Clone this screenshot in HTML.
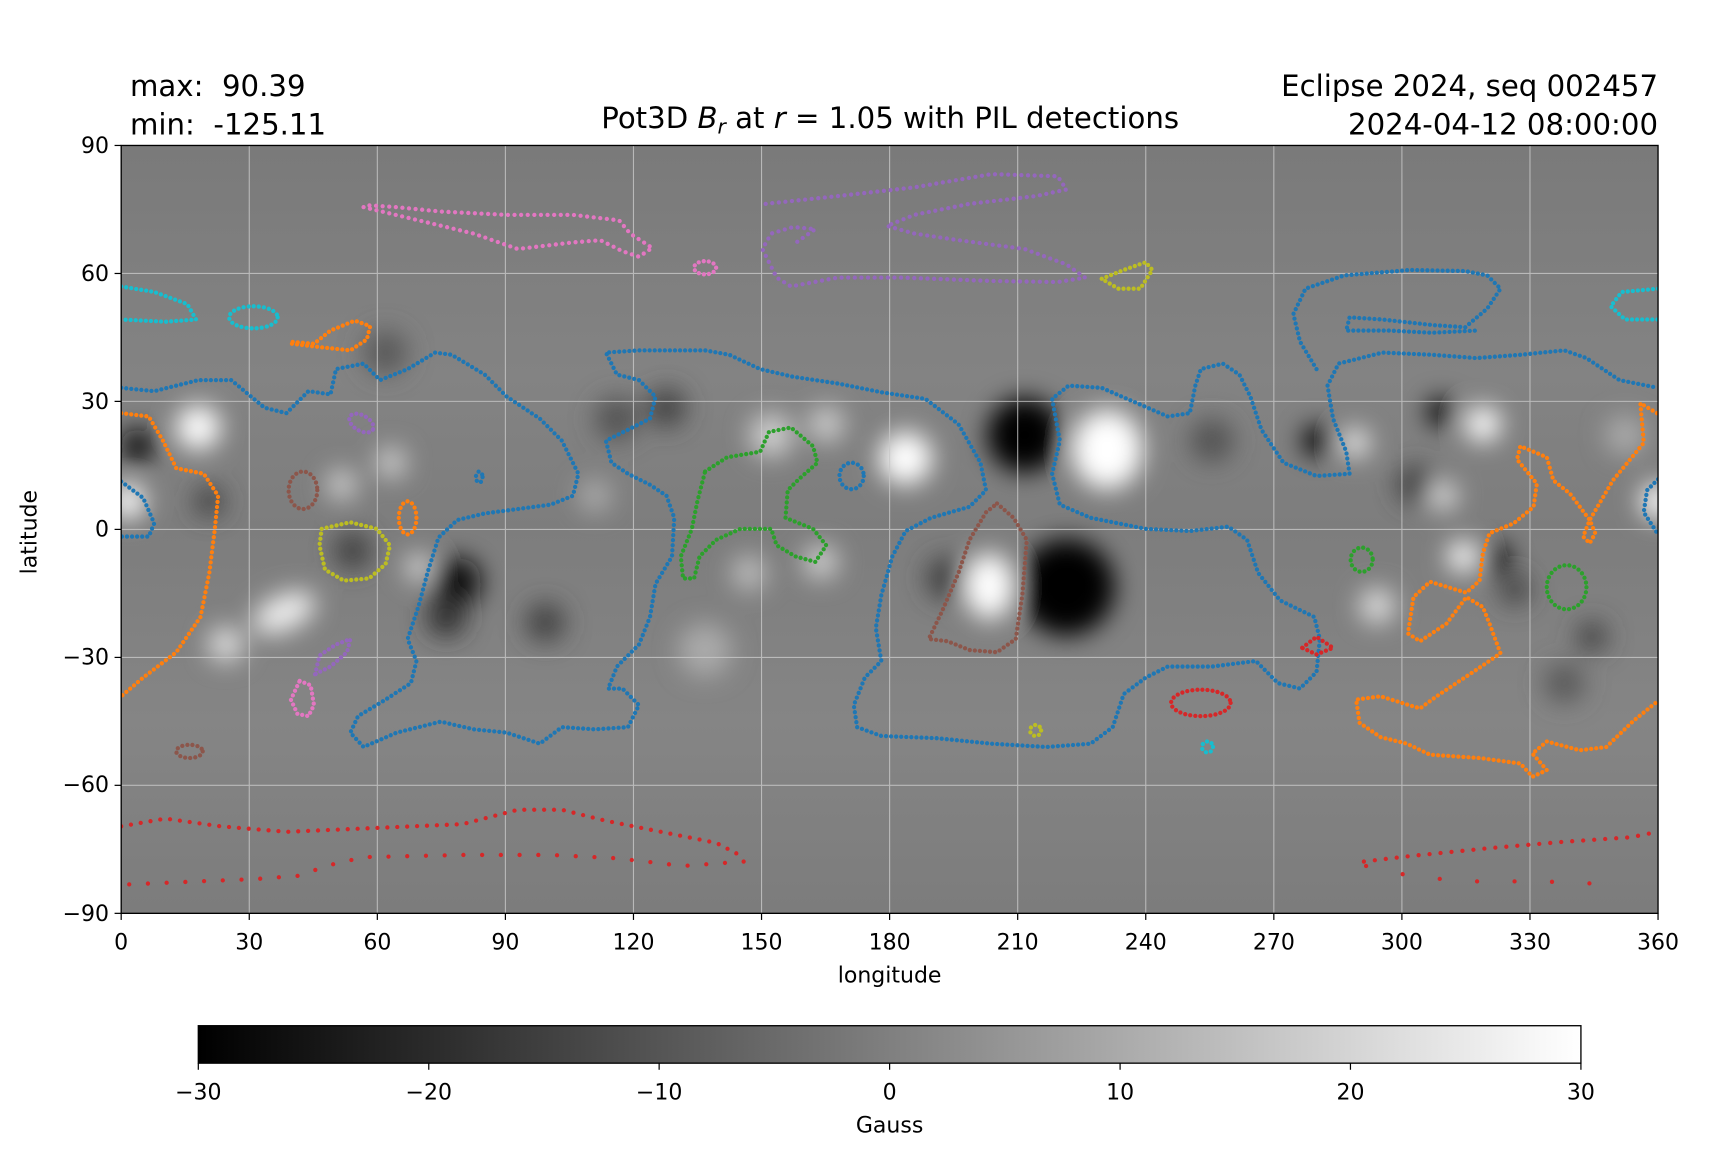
<!DOCTYPE html>
<html><head><meta charset="utf-8"><style>html,body{margin:0;padding:0;background:#fff}svg{display:block}text{font-family:"DejaVu Sans","Liberation Sans",sans-serif;fill:#000;white-space:pre}</style></head>
<body>
<svg width="1728" height="1152" viewBox="0 0 1568.5 1045.6" xmlns="http://www.w3.org/2000/svg" xml:space="preserve">
<defs>
<clipPath id="ax"><rect x="110" y="132" width="1395" height="697"/></clipPath>
<filter id="bl" x="-10%" y="-10%" width="120%" height="120%"><feGaussianBlur stdDeviation="11"/></filter>
<linearGradient id="cb" x1="0" x2="1"><stop offset="0" stop-color="#000"/><stop offset="1" stop-color="#fff"/></linearGradient>
<linearGradient id="bg" x1="0" y1="0" x2="0" y2="1"><stop offset="0" stop-color="#7a7a7a"/><stop offset="0.3" stop-color="#838383"/><stop offset="0.5" stop-color="#7d7d7d"/><stop offset="0.75" stop-color="#858585"/><stop offset="1" stop-color="#7c7c7c"/></linearGradient>
</defs>
<g clip-path="url(#ax)">
<rect x="110" y="132" width="1395" height="697" fill="url(#bg)"/>
<g filter="url(#bl)">
<circle cx="930" cy="395" r="34" fill="#000"/>
<circle cx="968" cy="533" r="44" fill="#000"/>
<circle cx="415" cy="528" r="22" fill="#111"/>
<circle cx="405" cy="560" r="18" fill="#333"/>
<circle cx="125" cy="405" r="16" fill="#111"/>
<circle cx="1196" cy="400" r="14" fill="#000"/>
<circle cx="1308" cy="374" r="13" fill="#000"/>
<circle cx="1359" cy="507" r="13" fill="#000"/>
<circle cx="1375" cy="535" r="14" fill="#444"/>
<circle cx="1445" cy="578" r="14" fill="#444"/>
<circle cx="495" cy="565" r="18" fill="#444"/>
<circle cx="605" cy="370" r="18" fill="#444"/>
<circle cx="860" cy="525" r="20" fill="#444"/>
<circle cx="1100" cy="400" r="20" fill="#555"/>
<circle cx="1285" cy="440" r="18" fill="#444"/>
<circle cx="320" cy="500" r="18" fill="#444"/>
<circle cx="190" cy="455" r="14" fill="#444"/>
<circle cx="350" cy="320" r="20" fill="#5a5a5a"/>
<circle cx="560" cy="380" r="20" fill="#555"/>
<circle cx="1420" cy="620" r="18" fill="#5a5a5a"/>
<ellipse cx="1005" cy="408" rx="32" ry="36" fill="#fff"/>
<ellipse cx="898" cy="532" rx="22" ry="30" fill="#fff"/>
<circle cx="822" cy="416" r="24" fill="#fff"/>
<circle cx="180" cy="388" r="20" fill="#fff"/>
<ellipse cx="258" cy="556" rx="30" ry="16" fill="#eee" transform="rotate(-25 258 556)"/>
<circle cx="205" cy="585" r="16" fill="#ddd"/>
<circle cx="116" cy="455" r="16" fill="#fff"/>
<circle cx="1505" cy="455" r="16" fill="#fff"/>
<circle cx="1346" cy="385" r="16" fill="#fff"/>
<circle cx="1328" cy="505" r="14" fill="#fff"/>
<circle cx="1230" cy="402" r="13" fill="#eee"/>
<circle cx="1250" cy="550" r="16" fill="#ddd"/>
<circle cx="1310" cy="450" r="13" fill="#ddd"/>
<circle cx="310" cy="440" r="14" fill="#ccc"/>
<circle cx="355" cy="420" r="14" fill="#ccc"/>
<circle cx="700" cy="395" r="20" fill="#ccc"/>
<circle cx="750" cy="385" r="16" fill="#ccc"/>
<circle cx="745" cy="510" r="16" fill="#ccc"/>
<circle cx="680" cy="520" r="16" fill="#bbb"/>
<circle cx="640" cy="590" r="24" fill="#aaa"/>
<circle cx="1475" cy="395" r="18" fill="#aaa"/>
<circle cx="380" cy="515" r="12" fill="#ddd"/>
<circle cx="540" cy="450" r="15" fill="#aaa"/>
</g>
<g stroke="#c8c8c8" stroke-width="1" opacity="0.8">
<line x1="226.25" y1="132" x2="226.25" y2="829"/><line x1="342.5" y1="132" x2="342.5" y2="829"/><line x1="458.75" y1="132" x2="458.75" y2="829"/><line x1="575" y1="132" x2="575" y2="829"/><line x1="691.25" y1="132" x2="691.25" y2="829"/><line x1="807.5" y1="132" x2="807.5" y2="829"/><line x1="923.75" y1="132" x2="923.75" y2="829"/><line x1="1040" y1="132" x2="1040" y2="829"/><line x1="1156.25" y1="132" x2="1156.25" y2="829"/><line x1="1272.5" y1="132" x2="1272.5" y2="829"/><line x1="1388.75" y1="132" x2="1388.75" y2="829"/>
<line x1="110" y1="248.2" x2="1505" y2="248.2"/><line x1="110" y1="364.3" x2="1505" y2="364.3"/><line x1="110" y1="480.5" x2="1505" y2="480.5"/><line x1="110" y1="596.7" x2="1505" y2="596.7"/><line x1="110" y1="712.8" x2="1505" y2="712.8"/>
</g>
<g fill="none" stroke-width="3.9" stroke-linecap="round" stroke-dasharray="0 4.6" stroke-linejoin="round">
<g stroke="#1f77b4">
<path d="M110,352 L140,355 L180,345 L210,345 L240,370 L260,375 L280,355 L300,358 L305,335 L330,330 L345,345 L370,335 L395,320 L410,322 L440,340 L460,360 L490,380 L510,400 L525,430 L520,450 L500,458 L470,462 L440,466 L415,472 L398,488 L388,520 L380,550 L370,580 L378,600 L373,620 L350,635 L325,650 L318,665 L330,678 L360,665 L400,655 L430,662 L460,665 L490,675 L510,660 L540,662 L570,660 L580,640 L565,625 L552,625 L560,605 L580,585 L590,560 L595,530 L610,505 L612,470 L605,450 L590,440 L570,430 L555,420 L550,400 L570,390 L590,380 L595,360 L580,345 L560,340 L550,320 L580,318 L610,318 L640,318 L662,322 L690,335 L720,342 L760,348 L800,356 L840,362 L870,385 L890,420 L895,445 L880,460 L845,470 L822,482 L810,505 L800,540 L795,570 L800,600 L785,615 L775,640 L778,660 L800,668 L850,670 L900,675 L950,678 L990,675 L1010,660 L1020,630 L1040,615 L1060,605 L1100,605 L1140,600 L1160,620 L1180,625 L1195,610 L1198,580 L1193,560 L1162,545 L1142,520 L1132,490 L1115,478 L1080,482 L1040,480 L990,470 L962,458 L955,430 L962,400 L955,362 L970,350 L1000,352 L1030,365 L1060,378 L1080,375 L1085,350 L1090,335 L1110,330 L1125,340 L1135,360 L1145,390 L1165,420 L1195,432 L1225,430 L1222,410 L1210,380 L1205,350 L1215,330 L1255,320 L1300,322 L1340,325 L1380,322 L1420,318 L1440,325 L1470,345 L1505,352"/>
<path d="M1195,335 L1180,310 L1174,285 L1185,262 L1220,250 L1280,245 L1330,246 L1350,250 L1362,262 L1350,280 L1330,297 L1300,295 L1255,290 L1225,288 L1222,300 L1260,300 L1300,302 L1340,300"/>
<path d="M1505,435 L1495,445 L1492,465 L1505,485"/>
<path d="M110,437 L130,452 L140,475 L135,487 L110,487"/>
<ellipse cx="773" cy="432" rx="11" ry="12"/>
<ellipse cx="435" cy="433" rx="3" ry="5"/>
</g>
<g stroke="#ff7f0e">
<path d="M110,375 L135,378 L148,400 L160,425 L185,430 L198,450 L195,480 L190,520 L182,560 L160,592 L130,615 L110,632"/>
<path d="M265,312 L290,315 L318,318 L333,308 L336,296 L322,291 L300,300 L285,312 L262,310"/>
<ellipse cx="370" cy="470" rx="8" ry="15"/>
<path d="M1504,375 L1489,366 L1492,402 L1464,436 L1443,472 L1437,487 L1443,493 L1448,484 L1443,472 L1425,448 L1410,436 L1404,415 L1380,405 L1377,417 L1395,439 L1392,460 L1374,475 L1352,484 L1346,502 L1343,527 L1331,538 L1298,528 L1283,542 L1278,575 L1289,582 L1313,566 L1331,542 L1346,551 L1352,566 L1362,593 L1340,608 L1304,632 L1289,643 L1253,632 L1231,635 L1234,656 L1253,669 L1277,675 L1298,685 L1343,688 L1380,693 L1391,705 L1404,699 L1391,684 L1404,673 L1434,681 L1458,678 L1483,654 L1504,637"/>
</g>
<g stroke="#2ca02c">
<path d="M640,428 L660,415 L690,410 L698,392 L718,388 L738,405 L742,420 L725,435 L715,445 L713,470 L738,480 L750,495 L740,510 L722,505 L705,495 L700,480 L672,480 L650,490 L635,505 L630,525 L620,525 L618,505 L628,480 L633,455 Z"/>
<ellipse cx="1236" cy="508" rx="10" ry="11"/>
<ellipse cx="1422" cy="533" rx="18" ry="20"/>
</g>
<g stroke="#bcbd22">
<path d="M292,480 L318,474 L342,480 L354,495 L350,512 L335,525 L312,527 L295,517 L290,495 Z"/>
<path d="M1000,253 L1020,245 L1040,238 L1046,245 L1035,262 L1015,262 Z"/>
<circle cx="940" cy="663" r="5"/>
</g>
<g stroke="#9467bd" stroke-dasharray="0 6">
<path d="M695,185 L760,178 L830,170 L900,158 L960,160 L968,172 L940,178 L880,185 L830,195 L805,205 L830,212 L870,218 L930,226 L968,240 L985,252 L960,256 L900,255 L820,252 L760,252 L718,260 L705,252 L692,226 L700,212 L720,206 L740,208 L720,222"/>
<ellipse cx="328" cy="384" rx="12" ry="7" transform="rotate(30 328 384)" stroke-dasharray="0 4.6"/>
<path d="M286,612 L290,595 L305,585 L318,580 L315,592 L300,605 Z" stroke-dasharray="0 4.6"/>
</g>
<g stroke="#e377c2">
<path d="M330,188 L380,200 L430,212 L470,226 L520,220 L545,218 L565,228 L580,233 L592,225 L572,212 L562,200 L520,195 L460,195 L400,192 L360,188 L330,186" stroke-dasharray="0 6"/>
<ellipse cx="640" cy="243" rx="10" ry="6"/>
<path d="M272,618 L282,622 L285,640 L280,650 L270,648 L264,635 Z"/>
</g>
<g stroke="#8c564b">
<ellipse cx="275" cy="445" rx="13" ry="17"/>
<ellipse cx="172" cy="682" rx="12" ry="6"/>
<path d="M905,457 L920,470 L932,490 L928,540 L922,580 L905,592 L880,590 L860,582 L843,580 L855,555 L870,520 L880,490 L895,465 Z"/>
</g>
<g stroke="#d62728">
<path d="M1182,588 L1195,578 L1210,588 L1195,594 Z"/>
<ellipse cx="1090" cy="638" rx="27" ry="12"/>
<path d="M110,750 L150,743 L200,750 L260,755 L330,752 L420,748 L470,735 L510,735 L550,745 L600,755 L650,765 L675,778" stroke-dasharray="0 9"/>
<path d="M675,782 L620,786 L560,779 L500,776 L420,776 L330,778 L300,785 L270,795 L230,798 L180,800 L110,803" stroke-dasharray="0 17"/>
<path d="M1238,782 L1280,777 L1350,770 L1420,764 L1480,760 L1505,755" stroke-dasharray="0 10"/>
<path d="M1240,786 L1280,795 L1330,800 L1400,800 L1470,803" stroke-dasharray="0 34"/>
</g>
<g stroke="#17becf">
<path d="M110,260 L140,265 L170,276 L178,290 L150,292 L110,290"/>
<ellipse cx="230" cy="288" rx="22" ry="10"/>
<path d="M1505,262 L1472,265 L1462,278 L1475,290 L1505,290"/>
<circle cx="1096" cy="678" r="5"/>
</g>
</g>
</g>
<rect x="110" y="132" width="1395" height="697" fill="none" stroke="#000" stroke-width="1.2"/>
<g stroke="#000" stroke-width="1.1">
<line x1="110" y1="829" x2="110" y2="835"/><line x1="226.25" y1="829" x2="226.25" y2="835"/><line x1="342.5" y1="829" x2="342.5" y2="835"/><line x1="458.75" y1="829" x2="458.75" y2="835"/><line x1="575" y1="829" x2="575" y2="835"/><line x1="691.25" y1="829" x2="691.25" y2="835"/><line x1="807.5" y1="829" x2="807.5" y2="835"/><line x1="923.75" y1="829" x2="923.75" y2="835"/><line x1="1040" y1="829" x2="1040" y2="835"/><line x1="1156.25" y1="829" x2="1156.25" y2="835"/><line x1="1272.5" y1="829" x2="1272.5" y2="835"/><line x1="1388.75" y1="829" x2="1388.75" y2="835"/><line x1="1505" y1="829" x2="1505" y2="835"/>
<line x1="104" y1="132" x2="110" y2="132"/><line x1="104" y1="248.2" x2="110" y2="248.2"/><line x1="104" y1="364.3" x2="110" y2="364.3"/><line x1="104" y1="480.5" x2="110" y2="480.5"/><line x1="104" y1="596.7" x2="110" y2="596.7"/><line x1="104" y1="712.8" x2="110" y2="712.8"/><line x1="104" y1="829" x2="110" y2="829"/>
</g>
<g font-size="20" text-anchor="middle">
<text x="110" y="862">0</text><text x="226.25" y="862">30</text><text x="342.5" y="862">60</text><text x="458.75" y="862">90</text><text x="575" y="862">120</text><text x="691.25" y="862">150</text><text x="807.5" y="862">180</text><text x="923.75" y="862">210</text><text x="1040" y="862">240</text><text x="1156.25" y="862">270</text><text x="1272.5" y="862">300</text><text x="1388.75" y="862">330</text><text x="1505" y="862">360</text>
<text x="807.5" y="892">longitude</text>
</g>
<g font-size="20" text-anchor="end">
<text x="99" y="139">90</text><text x="99" y="255">60</text><text x="99" y="371">30</text><text x="99" y="487">0</text><text x="99" y="603">−30</text><text x="99" y="719">−60</text><text x="99" y="836">−90</text>
</g>
<text x="33" y="483" font-size="20" text-anchor="middle" transform="rotate(-90 33 483)">latitude</text>
<text x="118" y="87" font-size="26.5">max:  90.39</text>
<text x="118" y="122" font-size="26.5">min:  -125.11</text>
<text x="1505" y="87" font-size="26.5" text-anchor="end">Eclipse 2024, seq 002457</text>
<text x="1505" y="122" font-size="26.5" text-anchor="end">2024-04-12 08:00:00</text>
<text x="808" y="116" font-size="26.5" text-anchor="middle">Pot3D <tspan font-style="italic">B</tspan><tspan font-style="italic" font-size="18.5" dy="5">r</tspan><tspan dy="-5"> at </tspan><tspan font-style="italic">r</tspan> = 1.05 with PIL detections</text>
<rect x="180" y="931" width="1255" height="34" fill="url(#cb)" stroke="#000" stroke-width="1.2"/>
<g stroke="#000" stroke-width="1.1">
<line x1="180" y1="965" x2="180" y2="971"/><line x1="389.2" y1="965" x2="389.2" y2="971"/><line x1="598.3" y1="965" x2="598.3" y2="971"/><line x1="807.5" y1="965" x2="807.5" y2="971"/><line x1="1016.7" y1="965" x2="1016.7" y2="971"/><line x1="1225.8" y1="965" x2="1225.8" y2="971"/><line x1="1435" y1="965" x2="1435" y2="971"/>
</g>
<g font-size="20" text-anchor="middle">
<text x="180" y="998">−30</text><text x="389.2" y="998">−20</text><text x="598.3" y="998">−10</text><text x="807.5" y="998">0</text><text x="1016.7" y="998">10</text><text x="1225.8" y="998">20</text><text x="1435" y="998">30</text>
<text x="807.5" y="1028">Gauss</text>
</g>
</svg>
</body></html>
